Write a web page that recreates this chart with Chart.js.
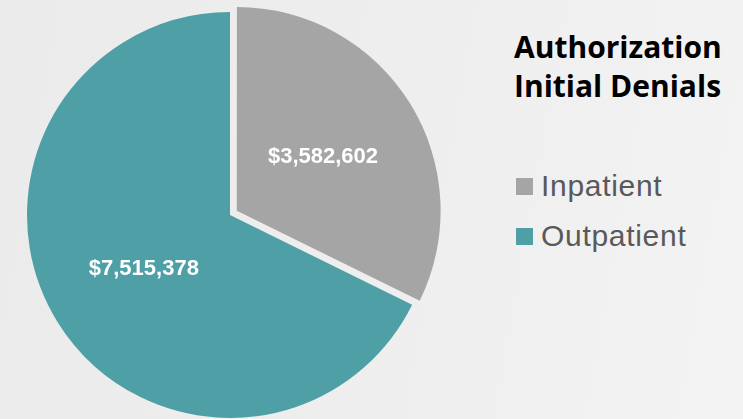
<!DOCTYPE html>
<html>
<head>
<meta charset="utf-8">
<script src="https://cdn.jsdelivr.net/npm/chart.js@4"></script>
<style>
  html, body { margin: 0; padding: 0; }
  body {
    width: 743px; height: 419px; overflow: hidden; position: relative;
    background: linear-gradient(100deg, #ebebeb 0%, #eeeeef 50%, #f3f3f3 100%);
  }
  #pieWrap { position: absolute; left: 11px; top: -4px; width: 438px; height: 438px; }
  #title {
    position: absolute; left: 514px; top: 27px;
    font: bold 30px "Open Sans", sans-serif; line-height: 39px; color: #000;
    white-space: nowrap;
  }
  #legend { position: absolute; left: 516px; top: 161px; }
  .item { display: flex; align-items: center; height: 50px;
    font: 30px "Liberation Sans", Arial, sans-serif; letter-spacing: 0.7px; color: #595959; }
  .swatch { width: 17px; height: 17px; margin-right: 8px; }
</style>
</head>
<body>
<div id="pieWrap"><canvas id="pie" width="438" height="438"></canvas></div>
<div id="title">Authorization<br>Initial Denials</div>
<div id="legend"></div>
<script>
// ─── Data ─────────────────────────────────────────────
const labels = ['Inpatient', 'Outpatient']
const values = [3582602, 7515378]
const colors = ['#a5a5a5', '#4f9fa6']
const offsets = [32, 0]   // v4 draws offset / 4 → 8px pull-out

// ─── Value labels on slices ───────────────────────────
const sliceLabels = {
  id: 'sliceLabels',
  afterDatasetsDraw(chart) {
    const c = chart.ctx
    const meta = chart.getDatasetMeta(0)
    c.save()
    c.font = 'bold 22px "Liberation Sans", Arial, sans-serif'
    c.fillStyle = '#ffffff'
    c.textAlign = 'center'
    c.textBaseline = 'middle'
    meta.data.forEach((arc, i) => {
      const { x, y, startAngle, endAngle, outerRadius } = arc.getProps(['x', 'y', 'startAngle', 'endAngle', 'outerRadius'])
      const mid = (startAngle + endAngle) / 2
      const d = outerRadius / 2 + offsets[i] / 4
      c.fillText('$' + values[i].toLocaleString('en-US'), x + Math.cos(mid) * d, y + Math.sin(mid) * d)
    })
    c.restore()
  }
}

// ─── Chart ────────────────────────────────────────────
new Chart(document.getElementById('pie'), {
  type: 'pie',
  data: {
    labels,
    datasets: [{
      data: values,
      backgroundColor: colors,
      borderWidth: 0,
      offset: offsets
    }]
  },
  options: {
    responsive: false,
    animation: false,
    devicePixelRatio: 1,
    layout: { padding: 0 },
    plugins: { legend: { display: false }, tooltip: { enabled: false } }
  },
  plugins: [sliceLabels]
})

// ─── Legend ───────────────────────────────────────────
const legend = document.getElementById('legend')
labels.forEach((l, i) => {
  const row = document.createElement('div')
  row.className = 'item'
  row.innerHTML = `<span class="swatch" style="background:${colors[i]}"></span><span>${l}</span>`
  legend.appendChild(row)
})
</script>
</body>
</html>
